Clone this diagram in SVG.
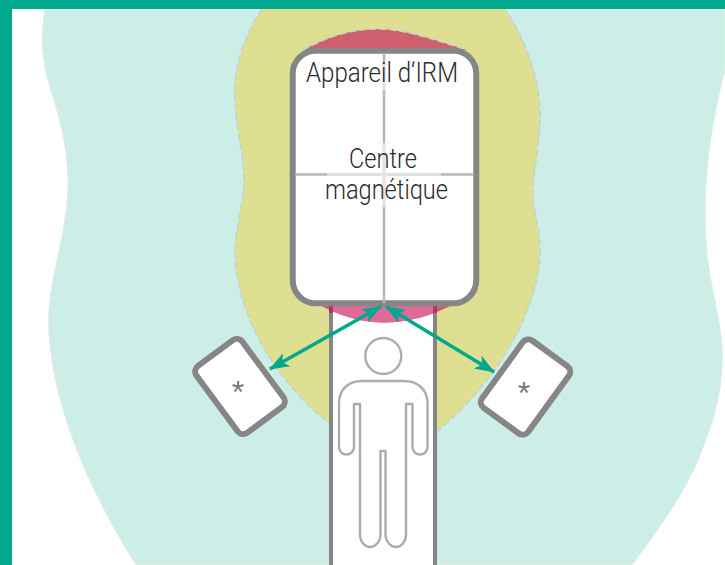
<svg xmlns="http://www.w3.org/2000/svg" width="725" height="565" viewBox="0 0 725 565">
<style>
.frame{fill:#00A88E}
.dev{fill:#fff;stroke:#868689;stroke-width:6}
.cross{stroke:#B7B7B9;stroke-width:2.500;fill:none}
.halo{stroke:#E5E5E5;stroke-width:2.500;fill:none}
.person{fill:#fff;stroke:#ACACAF;stroke-width:2.400;stroke-linejoin:round}
.lbl{font-family:Roboto,"Liberation Sans",sans-serif;font-weight:300;font-size:27px;fill:#2B2B2E;text-anchor:start}
.star{font-family:"Liberation Sans",Arial,sans-serif;font-size:32px;fill:#77777A;text-anchor:middle}
.edge{fill:none;stroke:#BFD3D2;stroke-width:1.500;stroke-dasharray:7 3}
.arrow{fill:none;stroke:#00A88E;stroke-width:3.500;marker-start:url(#head);marker-end:url(#head)}
</style>
<defs>
<marker id="head" markerUnits="userSpaceOnUse" markerWidth="24" markerHeight="18" refX="19" refY="9" orient="auto-start-reverse" overflow="visible">
<path d="M20 9L0 1.500L5 9L0 16.500Z" fill="#00A88E"/>
</marker>
<clipPath id="tableInner"><rect x="333" y="300" width="100" height="30"/></clipPath>
</defs>
<rect width="725" height="565" fill="#fff"/>
<path id="zone-light" d="M45 9C40 35 42 60 50 88C60 118 68 150 68 182C68 215 60 245 54 275C49 298 47 320 50 345C54 385 66 425 85 470C100 503 118 537 136 565H632C660 527 690 487 705 442C717 412 724 380 722 345C720 315 708 280 706 240C703 190 708 135 725 70V9Z" fill="#CDEDE7" stroke="#E6ECEB" stroke-width="1"/>
<path id="zone-yellow" d="M262 9C245 35 233 65 235 100C236 130 244 155 244 180C244 205 235 225 235 255C236 300 262 370 329 423L436 432C495 385 540 310 540 250C540 225 532 210 533 190C534 165 541 140 540 110C538 70 522 35 505 9Z" fill="#DFDF91"/>
<path class="edge" d="M262 9C245 35 233 65 235 100C236 130 244 155 244 180C244 205 235 225 235 255C236 300 262 370 329 423M436 432C495 385 540 310 540 250C540 225 532 210 533 190C534 165 541 140 540 110C538 70 522 35 505 9"/>
<path id="zone-red-top" d="M303 50C325 38 350 29 378 29C405 29 435 40 467 50Z" fill="#D05F6E"/>
<path class="edge" d="M303 50C325 38 350 29 378 29C405 29 435 40 467 50"/>
<g id="table">
<rect x="331" y="300" width="104" height="270" fill="#fff"/>
<path d="M316 303Q350 322.500 384 322.500Q420 322.500 456 303Z" fill="#D05F6E"/>
<path d="M316 303Q350 322.500 384 322.500Q420 322.500 456 303Z" fill="#DF6A9A" clip-path="url(#tableInner)"/>
<path d="M331 300V565M435 300V565" fill="none" stroke="#868689" stroke-width="4"/>
<path d="M331 303V313M435 303V313" fill="none" stroke="#A83A62" stroke-width="4"/>
</g>
<g id="mri">
<rect class="dev" x="292.750" y="50.750" width="183.500" height="252.500" rx="23"/>
<path class="cross" d="M384 53V303M295 174.500H474"/>
<path class="halo" d="M384 63V90M384 143V207M327 174.500H441"/>
<text class="lbl" x="306" y="82" textLength="152" lengthAdjust="spacingAndGlyphs">Appareil d‘IRM</text>
<text class="lbl" x="349" y="168" textLength="68" lengthAdjust="spacingAndGlyphs">Centre</text>
<text class="lbl" x="325" y="199" textLength="123" lengthAdjust="spacingAndGlyphs">magnétique</text>
</g>
<g id="patient">
<circle class="person" cx="383.300" cy="356" r="18"/>
<path class="person" d="M360 404H354V447A7.500 7.500 0 0 1 339 447V403C339 389 349 381 362 381H404C417 381 427.500 389 427.500 403V447A7.500 7.500 0 0 1 412.500 447V404H406V534C406 542 401 547 396 547C391 547 385.500 542 385.500 534V451H380.500V534C380.500 542 375 547 370 547C365 547 360 542 360 534Z"/>
</g>
<g id="sensor-left">
<rect class="dev" x="211.500" y="345" width="57" height="83" rx="7" transform="rotate(-36.500 240 386.500)"/>
<text class="star" x="238" y="403">*</text>
</g>
<g id="sensor-right">
<rect class="dev" x="497" y="345.500" width="57" height="83" rx="7" transform="rotate(36 525.500 387)"/>
<text class="star" x="524" y="404">*</text>
</g>
<g id="connectors">
<path class="arrow" d="M270 369L381 306.500"/>
<path class="arrow" d="M494 372L386 306.500"/>
</g>
<g id="frame">
<rect class="frame" x="0" y="0" width="725" height="9"/>
<rect class="frame" x="0" y="0" width="12" height="565"/>
</g>
</svg>
